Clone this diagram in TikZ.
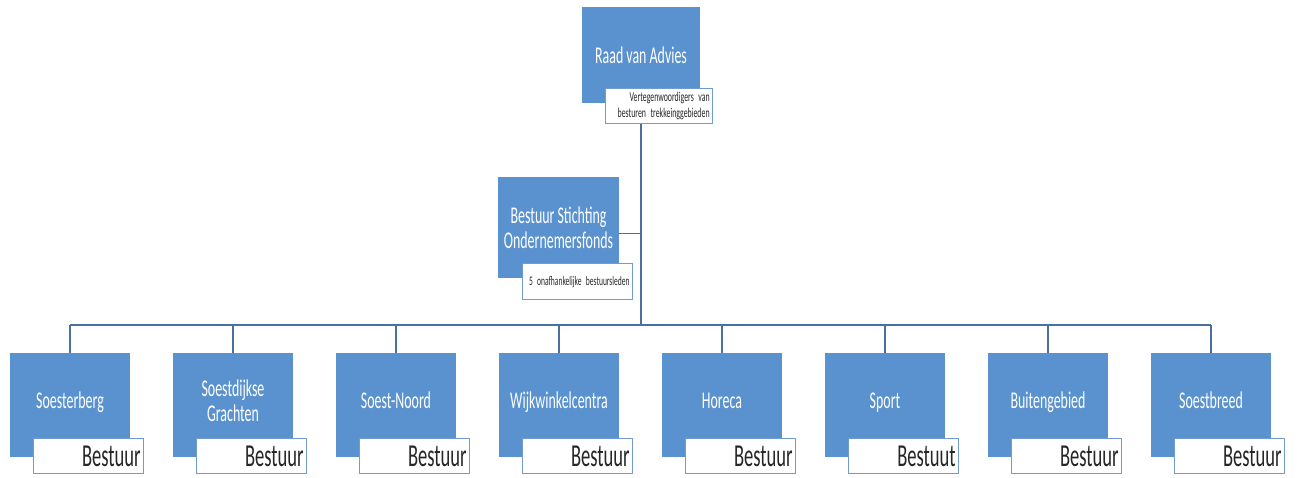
\documentclass[tikz,border=0pt]{standalone}
\usepackage{fontspec}
\newfontfamily\orgfont[FakeStretch=0.58]{Carlito}
\usepackage{tikz}
\usetikzlibrary{positioning}
\definecolor{vakblauw}{RGB}{90,146,207}
\definecolor{lijnblauw}{RGB}{72,112,160}
\definecolor{randblauw}{RGB}{112,156,210}
\tikzset{
  vak/.style={fill=vakblauw, text=white, align=center, inner sep=2pt, font=\orgfont\fontsize{24}{25}\selectfont},
  notitie/.style={draw=randblauw, line width=1.2pt, fill=white, anchor=north east, align=right, inner xsep=3pt, inner ysep=0pt, text=black!85},
  lijn/.style={draw=lijnblauw, line width=1.3pt}
}
\newcommand{\Afd}[3]{\node[vak, minimum width=120pt, minimum height=104pt, text depth=9pt] (#1) at (#2,72) {#3};\draw[lijn] (#1.north) -- (#1.north |- bus);}
\newcommand{\Bst}[2]{\node[notitie, minimum width=110pt, minimum height=35pt, text width=104pt, font=\orgfont\fontsize{32}{34}\selectfont] (#1-b) at ([shift={(14,19)}]#1.south east) {#2};}

\begin{document}
\begin{tikzpicture}[x=1pt,y=1pt]
    \useasboundingbox (0,0) rectangle (1299,477);
    \coordinate (bus) at (640,152);

    \node[vak, minimum width=118pt, minimum height=96pt] (raad) at (641,422) {Raad van Advies};
    \node[vak, minimum width=121pt, minimum height=101pt] (bsof) at (558.5,249.5) {Bestuur Stichting\\Ondernemersfonds};

    \Afd{soesterberg}{70}{Soesterberg}
    \Afd{grachten}{233}{Soestdijkse\\Grachten}
    \Afd{noord}{396}{Soest-Noord}
    \Afd{wijk}{559}{Wijkwinkelcentra}
    \Afd{horeca}{722}{Horeca}
    \Afd{sport}{885}{Sport}
    \Afd{buiten}{1048}{Buitengebied}
    \Afd{breed}{1211}{Soestbreed}

    \draw[lijn] (soesterberg.north |- bus) -- (breed.north |- bus);
    \draw[lijn] (raad.south) -- (raad.south |- bus);
    \draw[lijn] ([yshift=-6pt]bsof.east) -- ([yshift=-6pt]bsof.east -| raad.south);

    \node[notitie, minimum width=107pt, minimum height=35pt, text width=101pt, font=\orgfont\fontsize{13.5}{16}\selectfont] (raad-b) at ([shift={(13,15)}]raad.south east) {Vertegenwoordigers van\\besturen trekkeinggebieden};
    \node[notitie, minimum width=110pt, minimum height=36pt, text width=104pt, font=\orgfont\fontsize{13}{16}\selectfont] (bsof-b) at ([shift={(14,15)}]bsof.south east) {5 onafhankelijke bestuursleden};

    \Bst{soesterberg}{Bestuur}
    \Bst{grachten}{Bestuur}
    \Bst{noord}{Bestuur}
    \Bst{wijk}{Bestuur}
    \Bst{horeca}{Bestuur}
    \Bst{sport}{Bestuut}
    \Bst{buiten}{Bestuur}
    \Bst{breed}{Bestuur}

  \end{tikzpicture}
\end{document}
